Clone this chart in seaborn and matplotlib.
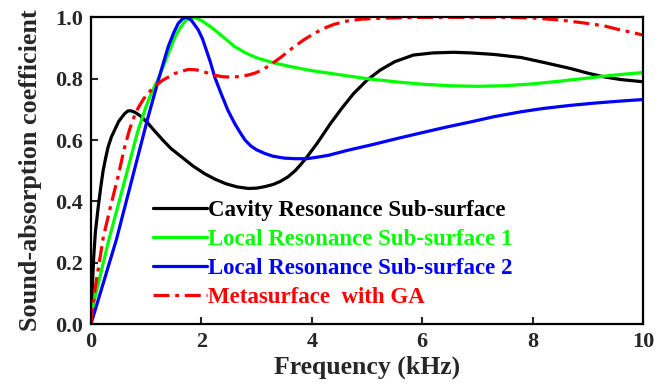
import matplotlib
matplotlib.use("Agg")
import matplotlib.pyplot as plt
import seaborn as sns
import pandas as pd

# ---- data ----
cavity_f = [0, 0.02, 0.05, 0.08, 0.13, 0.18, 0.22, 0.27, 0.31, 0.37, 0.43, 0.5, 0.55, 0.61, 0.67,
            0.73, 0.8, 0.9, 1.03, 1.15, 1.3, 1.45, 1.64, 1.85, 2.06, 2.25, 2.45, 2.65, 2.85, 3.0,
            3.15, 3.3, 3.43, 3.57, 3.7, 3.8, 3.91, 4.1, 4.34, 4.55, 4.76, 5.0, 5.24, 5.5, 5.84,
            6.2, 6.57, 6.88, 7.3, 7.79, 8.2, 8.69, 9.0, 9.29, 9.6, 10]
cavity_a = [0, 0.10, 0.22, 0.30, 0.38, 0.45, 0.50, 0.545, 0.577, 0.61, 0.633, 0.66, 0.672, 0.686,
            0.695, 0.695, 0.69, 0.678, 0.655, 0.63, 0.60, 0.572, 0.545, 0.515, 0.49, 0.472,
            0.457, 0.447, 0.442, 0.443, 0.448, 0.455, 0.465, 0.48, 0.50, 0.52, 0.544, 0.59,
            0.654, 0.705, 0.752, 0.795, 0.828, 0.855, 0.877, 0.884, 0.886, 0.884, 0.879, 0.869,
            0.853, 0.833, 0.818, 0.806, 0.797, 0.79]

lr1_f = [0, 0.05, 0.32, 0.6, 0.85, 1.0, 1.1, 1.22, 1.32, 1.42, 1.52, 1.62, 1.72, 1.8, 1.9, 2.0,
         2.2, 2.4, 2.6, 2.8, 3.0, 3.3, 3.6, 4.0, 4.5, 5.0, 5.5, 6.0, 6.5, 7.0, 7.5, 8.0, 8.5,
         9.0, 9.5, 10]
lr1_a = [0.02, 0.07, 0.272, 0.46, 0.63, 0.71, 0.755, 0.80, 0.845, 0.89, 0.935, 0.967, 0.99, 1.0,
         0.998, 0.99, 0.965, 0.935, 0.905, 0.884, 0.868, 0.852, 0.84, 0.826, 0.813, 0.80, 0.79,
         0.782, 0.777, 0.775, 0.777, 0.783, 0.792, 0.802, 0.812, 0.82]

lr2_f = [0, 0.46, 1.02, 1.22, 1.4, 1.5, 1.58, 1.67, 1.74, 1.82, 1.94, 2.02, 2.09, 2.17, 2.24,
         2.36, 2.48, 2.6, 2.7, 2.79, 2.9, 3.0, 3.15, 3.3, 3.5, 3.7, 3.91, 4.1, 4.3, 4.64, 5.1,
         5.55, 6.0, 6.46, 6.88, 7.3, 7.79, 8.2, 8.69, 9.1, 9.6, 10]
lr2_a = [0, 0.275, 0.665, 0.795, 0.905, 0.95, 0.98, 0.997, 1.0, 0.99, 0.96, 0.93, 0.893, 0.85,
         0.806, 0.75, 0.697, 0.655, 0.625, 0.60, 0.58, 0.568, 0.556, 0.547, 0.541, 0.539,
         0.539, 0.544, 0.55, 0.566, 0.585, 0.605, 0.624, 0.643, 0.659, 0.676, 0.692, 0.703,
         0.713, 0.72, 0.727, 0.732]

meta_f = [0, 0.03, 0.07, 0.15, 0.22, 0.35, 0.49, 0.6, 0.7, 0.78, 0.85, 0.95, 1.03, 1.19, 1.3,
          1.52, 1.76, 1.9, 2.05, 2.24, 2.4, 2.55, 2.7, 2.85, 2.97, 3.1, 3.25, 3.45, 3.65, 3.85,
          4.05, 4.22, 4.4, 4.64, 4.9, 5.24, 6.0, 7.0, 7.5, 8.0, 8.51, 9.0, 9.3, 9.54, 9.8, 10]
meta_a = [0, 0.05, 0.11, 0.20, 0.28, 0.38, 0.48, 0.57, 0.635, 0.675, 0.703, 0.733, 0.752, 0.78,
          0.795, 0.817, 0.830, 0.829, 0.822, 0.811, 0.806, 0.805, 0.807, 0.812, 0.818, 0.828,
          0.845, 0.871, 0.90, 0.926, 0.948, 0.964, 0.977, 0.988, 0.994, 0.997, 1.0, 1.0, 1.0,
          0.998, 0.991, 0.98, 0.972, 0.961, 0.951, 0.942]

labels = ["Cavity Resonance Sub-surface", "Local Resonance Sub-surface 1",
          "Local Resonance Sub-surface 2", "Metasurface  with GA"]
colors = ["#000000", "#00ff00", "#0000ff", "#ff0000"]
x_ticks = [0, 2, 4, 6, 8, 10]
y_ticks = [0.0, 0.2, 0.4, 0.6, 0.8, 1.0]

sns.set_style("ticks")
plt.rcParams["font.family"] = ["Liberation Serif", "DejaVu Serif"]
plt.rcParams["font.weight"] = "bold"

fig = plt.figure(figsize=(6.67, 3.85), dpi=100)
ax = fig.add_axes([0.1364, 0.1584, 0.8276, 0.7966])

series = [(cavity_f, cavity_a), (lr1_f, lr1_a), (lr2_f, lr2_a), (meta_f, meta_a)]
for (f, a), lab, col in zip(series, labels, colors):
    df = pd.DataFrame({"f": f, "a": a})
    sns.lineplot(data=df, x="f", y="a", color=col, linewidth=2.3, label=lab, ax=ax,
                 sort=False, estimator=None)

for ln in ax.get_lines():
    ln.set_solid_joinstyle("round")
red = ax.get_lines()[3]
red.set_dashes([5, 1.8, 1.2, 1.8])
red.set_dash_capstyle("butt")

ax.set_xlim(0, 10)
ax.set_ylim(0, 1.0)
ax.set_xticks(x_ticks)
ax.set_xticklabels([str(t) for t in x_ticks])
ax.set_yticks(y_ticks)
ax.set_yticklabels([f"{t:.1f}" for t in y_ticks])
ax.tick_params(direction="in", length=5, width=1.5, labelsize=16, pad=6)
for lbl in ax.get_xticklabels() + ax.get_yticklabels():
    lbl.set_fontweight("bold")
for sp in ax.spines.values():
    sp.set_linewidth(1.6)
    sp.set_color("black")

ax.set_xlabel("Frequency (kHz)", fontsize=18.5, fontweight="bold", labelpad=2)
ax.set_ylabel("Sound-absorption coefficient", fontsize=18.8, fontweight="bold", labelpad=9)

leg = ax.legend(loc="upper left", bbox_to_anchor=(0.112, 0.405), frameon=False,
                prop={"family": "Liberation Serif", "weight": "bold", "size": 16.5},
                labelcolor="linecolor", handlelength=2.35, handletextpad=0.05,
                labelspacing=0.35, borderpad=0, borderaxespad=0)

fig.savefig("out.png", dpi=100)
